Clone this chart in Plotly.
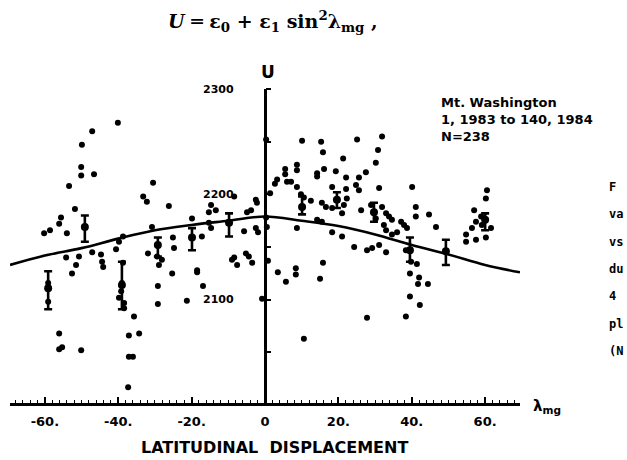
import plotly.graph_objects as go

# ---- data ----
lam_pts = [-40.1, -47.1, -49.9, -50.1, -50.1, -46.6, -53.4, -30.5, -33.2, -32.2, -26.2, -51.8, -55.6, -56.1,
           -58.6, -60.2, -54.0, -38.7, -39.8, -30.8, -40.6, -31.9, -25.1, -24.8, -47.1, -44.7, -50.7, -54.2,
           -51.5, -52.6, -44.4, -44.1, -38.7, -39.0, -39.2, -39.8, -38.4, -38.4, -35.7, -56.1, -56.1, -55.3,
           -50.1, -37.1, -34.3, -37.1, -36.0, -37.3, -29.4, -28.1, -28.9, -25.3, -29.2, -29.2, -59.1, -59.1,
           -18.5, -18.5, -16.9, -21.3, -9.0, -7.6, -5.2, -4.4, -3.5, 0.8, -0.8, 3.5, 5.7, 8.4, 8.4, 15.8, 15.0,
           10.6, 0.3, 10.1, 15.3, 15.8, 21.3, 8.7, 8.7, 5.5, 5.5, 14.2, 14.2, 16.1, 19.3, 3.3, 2.7, 6.0, 7.1,
           8.7, 22.1, 18.3, 22.1, 1.4, 9.8, 10.6, 12.5, 15.5, 16.6, 18.3, 21.0, -2.5, -2.2, -3.8, -8.4, -14.7,
           -13.4, -15.3, -19.9, -15.3, -14.7, -5.7, -2.5, -1.9, 0.3, 0.5, -17.2, 8.7, 18.3, 21.0, 14.2, 15.5,
           -8.4, 31.9, 25.1, 30.8, 30.2, 27.5, 25.6, 24.8, 25.6, 31.1, 40.1, 60.5, 60.2, 41.1, 44.7, 46.6, 28.9,
           30.2, 31.9, 33.0, 33.8, 34.6, 32.4, 33.0, 34.6, 26.2, 22.3, 21.5, 37.1, 37.9, 38.7, 41.1, 36.0, 57.0,
           58.9, 57.5, 59.1, 61.6, 56.4, 60.2, 57.5, 54.8, 54.8, 24.3, 27.8, 29.2, 31.1, 33.0, 38.4, 39.8, 41.4,
           39.5, 42.0, 41.7, 44.4, 39.5, 42.2, 27.8, 38.4, -4.9]
u_pts = [2268, 2260, 2247, 2226, 2218, 2219, 2208, 2211, 2198, 2193, 2189, 2186, 2178, 2172,
         2166, 2163, 2163, 2160, 2155, 2169, 2148, 2144, 2159, 2149, 2145, 2143, 2141, 2140,
         2133, 2125, 2136, 2131, 2135, 2116, 2108, 2102, 2097, 2092, 2084, 2068, 2053, 2055,
         2052, 2066, 2068, 2046, 2046, 2017, 2141, 2138, 2133, 2125, 2113, 2096, 2116, 2098,
         2128, 2126, 2113, 2099, 2138, 2133, 2144, 2141, 2135, 2137, 2101, 2126, 2117, 2130, 2124, 2135, 2120,
         2063, 2252, 2251, 2250, 2240, 2234, 2228, 2223, 2224, 2219, 2220, 2217, 2224, 2222, 2214, 2210, 2212, 2212,
         2207, 2216, 2207, 2205, 2201, 2200, 2197, 2194, 2192, 2188, 2187, 2182, 2195, 2192, 2185, 2198, 2190,
         2185, 2183, 2177, 2173, 2168, 2165, 2168, 2164, 2178, 2169, 2160, 2168, 2164, 2160, 2176, 2174,
         2140, 2255, 2252, 2242, 2230, 2221, 2216, 2209, 2204, 2206, 2207, 2204, 2196, 2188, 2181, 2169, 2190,
         2177, 2188, 2182, 2179, 2176, 2171, 2166, 2162, 2185, 2196, 2190, 2174, 2171, 2168, 2179, 2164, 2185,
         2179, 2174, 2171, 2168, 2168, 2159, 2157, 2162, 2155, 2150, 2147, 2149, 2152, 2145, 2147, 2136, 2134,
         2125, 2121, 2115, 2115, 2103, 2095, 2083, 2084, 2183]

bin_lam = [-59.1, -49.1, -39.0, -29.2, -19.9, -9.8, 10.1, 19.6, 29.7, 39.5, 49.3, 60.0]
bin_mean = [2111, 2169, 2114, 2152, 2159, 2173, 2188, 2195, 2183, 2147, 2146, 2176]
bin_hi = [2127, 2180, 2136, 2159, 2168, 2182, 2198, 2202, 2192, 2159, 2157, 2182]
bin_lo = [2091, 2155, 2091, 2141, 2147, 2160, 2181, 2187, 2174, 2136, 2133, 2166]

fit_lam = [-69.5, -60, -50, -40, -30, -20, -10, 0, 10, 20, 30, 40, 50, 60, 69.5]
fit_u = [2133, 2142, 2149, 2158, 2166, 2171, 2175, 2179, 2175, 2170, 2162, 2152, 2143, 2133, 2126]

x_tickvals = [-60, -40, -20, 0, 20, 40, 60]
x_ticktext = ["-60.", "-40.", "-20.", "0", "20.", "40.", "60."]
y_labels = [2100, 2200, 2300]

# ---- figure ----
W, H = 627, 460
L, R, T, B = 10, 107, 89, 57
FONT = "DejaVu Sans"


def paper(px, py):
    return (px - L) / (W - L - R), (H - B - py) / (H - T - B)


fig = go.Figure()

fig.add_trace(go.Scatter(x=fit_lam, y=fit_u, mode="lines",
                         line=dict(color="black", width=2.6, shape="spline"),
                         hoverinfo="skip", showlegend=False))

fig.add_trace(go.Scatter(x=lam_pts, y=u_pts, mode="markers",
                         marker=dict(color="black", size=6),
                         showlegend=False))

fig.add_trace(go.Scatter(
    x=bin_lam, y=bin_mean, mode="markers",
    marker=dict(color="black", size=8),
    error_y=dict(type="data", symmetric=False,
                 array=[h - m for h, m in zip(bin_hi, bin_mean)],
                 arrayminus=[m - l for m, l in zip(bin_mean, bin_lo)],
                 color="black", thickness=2.6, width=4),
    showlegend=False))

fig.update_xaxes(range=[-69.5, 69.5], showgrid=False,
                 zeroline=True, zerolinecolor="black", zerolinewidth=3,
                 showline=True, linecolor="black", linewidth=3,
                 ticks="inside", ticklen=6, tickwidth=1.5, tickcolor="black",
                 tickvals=x_tickvals, ticktext=[f"<b>{t}</b>" for t in x_ticktext],
                 tickfont=dict(family=FONT, size=13, color="black"),
                 ticklabelstandoff=4,
                 minor=dict(dtick=2, ticks="inside", ticklen=3, tickwidth=1.2, tickcolor="black"))

fig.update_yaxes(range=[2002, 2300], showgrid=False, zeroline=False, showline=False,
                 anchor="free", position=0.5, side="right",
                 ticks="outside", ticklen=5, tickwidth=2, tickcolor="black",
                 tickvals=[2050, 2100, 2150, 2200, 2250, 2300],
                 showticklabels=False)

ann = []
for v in y_labels:
    ann.append(dict(x=-12.7, y=v, xref="x", yref="y", text=f"<b>{v}</b>", showarrow=False,
                    font=dict(family=FONT, size=11, color="black")))


def add_text(px, py, text, size, family=FONT, xanchor="center", yanchor="middle", align="center"):
    x, y = paper(px, py)
    ann.append(dict(x=x, y=y, xref="paper", yref="paper", text=text, showarrow=False,
                    xanchor=xanchor, yanchor=yanchor, align=align,
                    font=dict(family=family, size=size, color="black")))


add_text(268, 72, "<b>U</b>", 17)
add_text(273, 22, "<b><i>U</i> ═ ε<sub>0</sub> + ε<sub>1</sub> sin<sup>2</sup>λ<sub>mg</sub> ,</b>", 19,
         family="DejaVu Serif")
add_text(439, 119, "<b>Mt. Washington<br>1, 1983 to 140, 1984<br>N=238</b>", 13,
         xanchor="left", align="left")
add_text(274, 447, "<b>LATITUDINAL  DISPLACEMENT</b>", 16)
add_text(531, 406, "<b>λ<sub>mg</sub></b>", 15, xanchor="left")

side_lines = ["F", "va", "vs", "du", "4", "pl", "(N"]
for i, s in enumerate(side_lines):
    add_text(607, 187 + i * 27.3, f"<b>{s}</b>", 12, family="DejaVu Sans Mono", xanchor="left")

fig.update_layout(width=W, height=H, margin=dict(l=L, r=R, t=T, b=B),
                  paper_bgcolor="white", plot_bgcolor="white",
                  annotations=ann, showlegend=False)

fig.write_html("out.html")
